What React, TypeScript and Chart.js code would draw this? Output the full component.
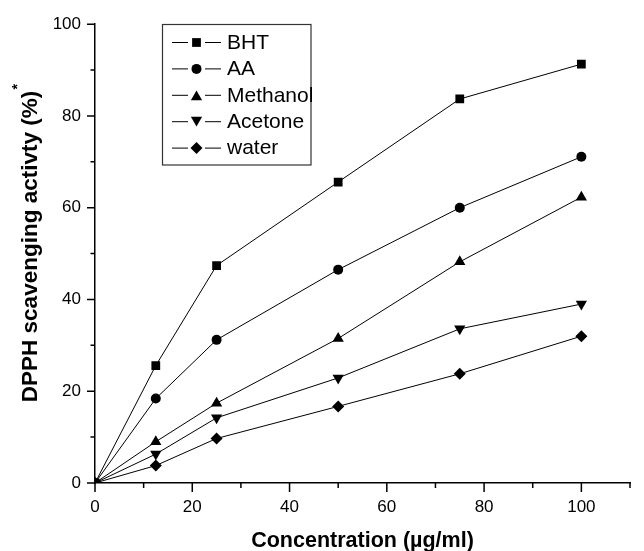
import React, { useEffect, useRef } from 'react';
import { Chart, registerables } from 'chart.js';

Chart.register(...registerables);

// ---- data ----
const concentrations = [0, 12.5, 25, 50, 75, 100];
const bhtValues = [0, 25.6, 47.4, 65.6, 83.7, 91.3];
const aaValues = [0, 18.4, 31.2, 46.5, 60.0, 71.1];
const methanolValues = [0, 9.0, 17.4, 31.5, 48.2, 62.3];
const acetoneValues = [0, 6.3, 14.2, 22.9, 33.6, 39.0];
const waterValues = [0, 3.8, 9.7, 16.7, 23.8, 32.0];
const seriesLabels = ['BHT', 'AA', 'Methanol', 'Acetone', 'water'];
const seriesValues = [bhtValues, aaValues, methanolValues, acetoneValues, waterValues];

const xMajorTicks = [0, 20, 40, 60, 80, 100];
const xMinorTicks = [10, 30, 50, 70, 90, 110];
const yMajorTicks = [0, 20, 40, 60, 80, 100];
const yMinorTicks = [10, 30, 50, 70, 90];

const xTitle = 'Concentration (\u00b5g/ml)';
const yTitle = 'DPPH scavenging activty (%)';
const yTitleMark = '*';

// ---- styles ----
const FONT = '"Liberation Sans", Arial, Helvetica, sans-serif';
const markerStyles = ['rect', 'circle', 'triangle', 'triangle', 'rectRot'];
const markerRotations = [0, 0, 0, 180, 0];
const markerRadii = [6.2, 5, 6.5, 6.5, 6];

function drawMarker(ctx: CanvasRenderingContext2D, idx: number, x: number, y: number) {
  const r = markerRadii[idx];
  ctx.beginPath();
  const style = markerStyles[idx];
  if (style === 'rect') {
    const s = Math.SQRT1_2 * r;
    ctx.rect(x - s, y - s, 2 * s, 2 * s);
  } else if (style === 'circle') {
    ctx.arc(x, y, r, 0, Math.PI * 2);
  } else if (style === 'triangle') {
    const dir = markerRotations[idx] === 180 ? -1 : 1;
    const yc = y + dir * r * 0.25;
    for (let k = 0; k < 3; k++) {
      const a = (k * 2 * Math.PI) / 3;
      const px = x + Math.sin(a) * r;
      const py = yc - dir * Math.cos(a) * r;
      if (k === 0) ctx.moveTo(px, py);
      else ctx.lineTo(px, py);
    }
    ctx.closePath();
  } else {
    ctx.moveTo(x - r, y);
    ctx.lineTo(x, y - r);
    ctx.lineTo(x + r, y);
    ctx.lineTo(x, y + r);
    ctx.closePath();
  }
  ctx.fill();
}

const decorPlugin = {
  id: 'decor',
  afterDraw(chart: any) {
    const ctx: CanvasRenderingContext2D = chart.ctx;
    const xs = chart.scales.x;
    const ys = chart.scales.y;
    const ca = chart.chartArea;
    ctx.save();

    // tick marks
    ctx.strokeStyle = '#000';
    ctx.lineWidth = 1.5;
    ctx.beginPath();
    xMajorTicks.forEach((v) => {
      const px = xs.getPixelForValue(v);
      ctx.moveTo(px, ca.bottom);
      ctx.lineTo(px, ca.bottom + 9);
    });
    xMinorTicks.forEach((v) => {
      const px = Math.min(xs.getPixelForValue(v), chart.width - 1);
      ctx.moveTo(px, ca.bottom);
      ctx.lineTo(px, ca.bottom + 5);
    });
    yMajorTicks.forEach((v) => {
      const py = ys.getPixelForValue(v);
      ctx.moveTo(ca.left, py);
      ctx.lineTo(ca.left - 8, py);
    });
    yMinorTicks.forEach((v) => {
      const py = ys.getPixelForValue(v);
      ctx.moveTo(ca.left, py);
      ctx.lineTo(ca.left - 4.5, py);
    });
    ctx.stroke();

    // axis titles
    ctx.fillStyle = '#000';
    ctx.textAlign = 'center';
    ctx.textBaseline = 'alphabetic';
    ctx.font = `bold 21.5px ${FONT}`;
    ctx.fillText(xTitle, (ca.left + ca.right) / 2, ca.bottom + 63.7);

    ctx.save();
    ctx.translate(36.5, 246.5);
    ctx.rotate(-Math.PI / 2);
    ctx.font = `bold 22.5px ${FONT}`;
    ctx.fillText(yTitle, 0, 0);
    const half = ctx.measureText(yTitle).width / 2;
    ctx.font = `bold 14px ${FONT}`;
    ctx.fillText(yTitleMark, half + 4, -14.5);
    ctx.restore();

    // legend
    const bx = 162.5, by = 24.5, bw = 148.5, bh = 140.5;
    ctx.strokeStyle = '#333';
    ctx.lineWidth = 1.2;
    ctx.strokeRect(bx, by, bw, bh);
    ctx.font = `21px ${FONT}`;
    ctx.textAlign = 'left';
    ctx.textBaseline = 'middle';
    seriesLabels.forEach((label, i) => {
      const y = 42.5 + i * 26.4;
      ctx.strokeStyle = '#000';
      ctx.lineWidth = 1;
      ctx.beginPath();
      ctx.moveTo(172, y);
      ctx.lineTo(188, y);
      ctx.moveTo(205, y);
      ctx.lineTo(221, y);
      ctx.stroke();
      ctx.fillStyle = '#000';
      drawMarker(ctx, i, 196.5, y);
      ctx.fillText(label, 227, y + 0.5);
    });

    ctx.restore();
  },
};

export default function App() {
  const ref = useRef<HTMLCanvasElement | null>(null);

  useEffect(() => {
    if (!ref.current) return;
    const tickFont = { family: FONT, size: 17 };
    const chart = new Chart(ref.current, {
      type: 'line',
      data: {
        datasets: seriesLabels.map((label, i) => ({
          label,
          data: concentrations.map((x, j) => ({ x, y: seriesValues[i][j] })),
          borderColor: '#000',
          backgroundColor: '#000',
          borderWidth: 1,
          pointStyle: markerStyles[i] as any,
          pointRotation: markerRotations[i],
          pointRadius: markerRadii[i],
          pointBorderWidth: 0,
          pointBackgroundColor: '#000',
          tension: 0,
          clip: 0,
        })),
      },
      options: {
        responsive: false,
        animation: false,
        events: [],
        layout: { padding: { top: 22, right: 1.5, left: 0, bottom: 0 } },
        plugins: { legend: { display: false }, tooltip: { enabled: false } },
        scales: {
          x: {
            type: 'linear',
            min: 0,
            max: 110,
            afterFit: (s: any) => {
              s.height = 68;
            },
            grid: { display: false, drawTicks: false },
            border: { display: true, color: '#000', width: 1.5 },
            ticks: {
              stepSize: 10,
              autoSkip: false,
              maxRotation: 0,
              padding: 14,
              color: '#000',
              font: tickFont,
              callback: (v: any) => (xMajorTicks.includes(Number(v)) ? String(v) : ''),
            },
          },
          y: {
            type: 'linear',
            min: 0,
            max: 100,
            afterFit: (s: any) => {
              s.width = 95;
            },
            grid: { display: false, drawTicks: false },
            border: { display: true, color: '#000', width: 1.5 },
            ticks: {
              stepSize: 10,
              autoSkip: false,
              padding: 14,
              color: '#000',
              font: tickFont,
              callback: (v: any) => (yMajorTicks.includes(Number(v)) ? String(v) : ''),
            },
          },
        },
      },
      plugins: [decorPlugin],
    });
    return () => chart.destroy();
  }, []);

  return (
    <div style={{ position: 'absolute', left: 0, top: 0, width: 644, height: 551, background: '#fff' }}>
      <canvas ref={ref} width={644} height={551} style={{ width: 644, height: 551, display: 'block' }} />
    </div>
  );
}
